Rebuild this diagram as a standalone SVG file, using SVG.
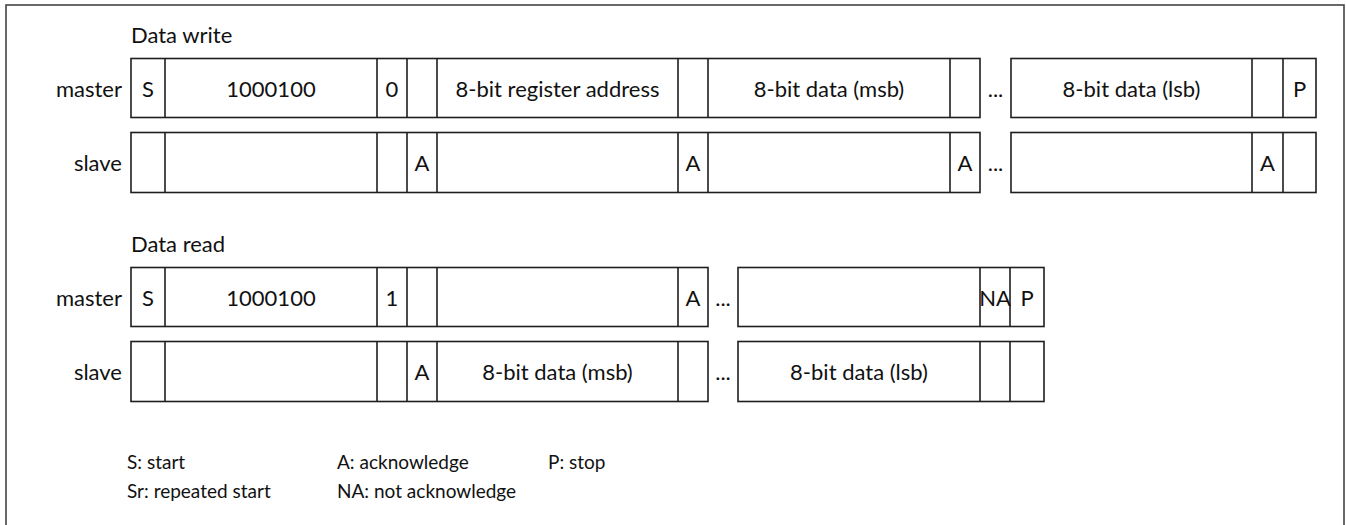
<svg xmlns="http://www.w3.org/2000/svg" width="1346" height="525" viewBox="0 0 1346 525">
<style>
.f{fill:none;stroke:#1e1e1e;stroke-width:1.6}
.t{font-family:Lato,"Liberation Sans",sans-serif;font-size:22px;fill:#111}
.c{text-anchor:middle}
.r{text-anchor:end}
.l{font-family:Lato,"Liberation Sans",sans-serif;font-size:19px;fill:#111}
</style>
<rect x="0" y="0" width="1346" height="525" fill="#fff"/>
<rect id="frame" x="6" y="5" width="1338" height="600" fill="none" stroke="#444" stroke-width="1.6"/>

<g id="write">
<text class="t" x="131" y="43">Data write</text>
<g id="w-master">
<text class="t r" x="122" y="97">master</text>
<rect class="f" x="131" y="58.5" width="849" height="59"/>
<path class="f" d="M165 58.5V117.5M377 58.5V117.5M407 58.5V117.5M437 58.5V117.5M678 58.5V117.5M708 58.5V117.5M950 58.5V117.5"/>
<text class="t c" x="148" y="97">S</text>
<text class="t c" x="271" y="97">1000100</text>
<text class="t c" x="392" y="97">0</text>
<text class="t c" x="557.5" y="97">8-bit register address</text>
<text class="t c" x="829" y="97">8-bit data (msb)</text>
<text class="t c" x="995.5" y="97">...</text>
<rect class="f" x="1011" y="58.5" width="305" height="59"/>
<path class="f" d="M1252 58.5V117.5M1283 58.5V117.5"/>
<text class="t c" x="1131.5" y="97">8-bit data (lsb)</text>
<text class="t c" x="1299.5" y="97">P</text>
</g>
<g id="w-slave">
<text class="t r" x="122" y="171">slave</text>
<rect class="f" x="131" y="132.5" width="849" height="60"/>
<path class="f" d="M165 132.5V192.5M377 132.5V192.5M407 132.5V192.5M437 132.5V192.5M678 132.5V192.5M708 132.5V192.5M950 132.5V192.5"/>
<text class="t c" x="422" y="171">A</text>
<text class="t c" x="693" y="171">A</text>
<text class="t c" x="965" y="171">A</text>
<text class="t c" x="995.5" y="171">...</text>
<rect class="f" x="1011" y="132.5" width="305" height="60"/>
<path class="f" d="M1252 132.5V192.5M1283 132.5V192.5"/>
<text class="t c" x="1267.5" y="171">A</text>
</g>
</g>

<g id="read">
<text class="t" x="131" y="252">Data read</text>
<g id="r-master">
<text class="t r" x="122" y="306">master</text>
<rect class="f" x="131" y="267.5" width="577" height="59"/>
<path class="f" d="M165 267.5V326.5M377 267.5V326.5M407 267.5V326.5M437 267.5V326.5M678 267.5V326.5"/>
<text class="t c" x="148" y="306">S</text>
<text class="t c" x="271" y="306">1000100</text>
<text class="t c" x="392" y="306">1</text>
<text class="t c" x="693" y="306">A</text>
<text class="t c" x="723" y="306">...</text>
<rect class="f" x="738" y="267.5" width="306" height="59"/>
<path class="f" d="M980 267.5V326.5M1010 267.5V326.5"/>
<text class="t c" x="995" y="306">NA</text>
<text class="t c" x="1027" y="306">P</text>
</g>
<g id="r-slave">
<text class="t r" x="122" y="380">slave</text>
<rect class="f" x="131" y="341.5" width="577" height="60"/>
<path class="f" d="M165 341.5V401.5M377 341.5V401.5M407 341.5V401.5M437 341.5V401.5M678 341.5V401.5"/>
<text class="t c" x="422" y="380">A</text>
<text class="t c" x="557.5" y="380">8-bit data (msb)</text>
<text class="t c" x="723" y="380">...</text>
<rect class="f" x="738" y="341.5" width="306" height="60"/>
<path class="f" d="M980 341.5V401.5M1010 341.5V401.5"/>
<text class="t c" x="859" y="380">8-bit data (lsb)</text>
</g>
</g>

<g id="connectors"/>

<g id="legend">
<text class="l" x="127" y="469">S: start</text>
<text class="l" x="127" y="498">Sr: repeated start</text>
<text class="l" x="337" y="469">A: acknowledge</text>
<text class="l" x="337" y="498">NA: not acknowledge</text>
<text class="l" x="548" y="469">P: stop</text>
</g>
</svg>
